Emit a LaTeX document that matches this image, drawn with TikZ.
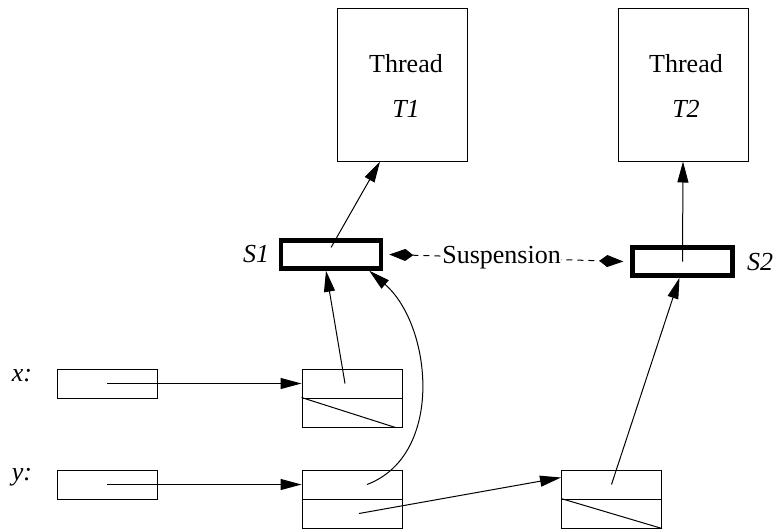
\documentclass[tikz,border=0pt]{standalone}
\usepackage{fontspec}
\setmainfont{Liberation Serif}
\usetikzlibrary{arrows.meta}
\begin{document}
\begin{tikzpicture}[x=1pt,y=-1pt,
  font=\fontsize{26}{30}\selectfont,
  thin line/.style={line width=1pt},
  threadbox/.style={draw,line width=1pt,minimum width=130pt,minimum height=152pt,inner sep=0pt},
  susp/.style={draw,line width=4.5pt,minimum width=100pt,minimum height=28pt,inner sep=0pt},
  cell/.style={draw,line width=1pt,minimum width=100pt,minimum height=29pt,inner sep=0pt},
  ptr/.style={line width=1pt,-{Triangle[length=21pt,width=11pt]}},
  susparrow/.style={line width=1pt,dash pattern=on 6pt off 5pt,
     {Kite[length=24pt,width=12pt,inset=8pt]}-{Kite[length=24pt,width=12pt,inset=8pt]}}
]
\useasboundingbox (0,0) rectangle (776,532);
% threads
\node[threadbox] (T1) at (402,85) {};
\node[anchor=base] (T1a) at (406,73) {Thread};
\node[anchor=base] (T1b) at (406,118) {\textit{T1}};
\node[threadbox] (T2) at (683,85) {};
\node[anchor=base] (T2a) at (686,73) {Thread};
\node[anchor=base] (T2b) at (686,118) {\textit{T2}};
% suspensions
\node[susp] (S1) at (331,254.5) {};
\node[susp] (S2) at (682.5,261.5) {};
\node (S1l) at (256,254) {\textit{S1}};
\node (S2l) at (760,262) {\textit{S2}};
% variables
\node (xl) at (22,376) {\textit{x:}};
\node (yl) at (22,477) {\textit{y:}};
\node[cell] (xc) at (107,383.5) {};
\node[cell] (yc) at (107,484.5) {};
% cells
\node[cell] (a1) at (352,383.5) {};
\node[cell] (a2) at (352,412.5) {};
\node[cell] (b1) at (352,484.5) {};
\node[cell] (b2) at (352,513.5) {};
\node[cell] (c1) at (611.5,484.5) {};
\node[cell] (c2) at (611.5,513.5) {};
\draw[thin line] (a2.north west) -- ([xshift=-7pt]a2.south east);
\draw[thin line] (c2.north west) -- (c2.south east);
% pointers
\draw[ptr] (xc.center) -- (a1.west);
\draw[ptr] (yc.center) -- (b1.west);
\draw[ptr] ([xshift=-7pt]a1.center) -- ([xshift=-5pt]S1.south);
\draw[ptr] ([xshift=15pt]b1.center) .. controls (445,455) and (432,325) .. ([xshift=-14pt]S1.south east);
\draw[ptr] ([xshift=7pt]b2.center) -- ([yshift=7pt]c1.west);
\draw[ptr] (c1.center) -- ([xshift=-3pt]S2.south);
\draw[ptr] ([yshift=7pt]S1.center) -- ([xshift=-22pt]T1.south);
\draw[ptr] (S2.center) -- (T2.south);
% suspension link
\draw[susparrow] ([xshift=6pt]S1.east) -- node[fill=white,inner sep=0pt,pos=0.48] (susl) {Suspension} ([xshift=-7pt]S2.west);
\end{tikzpicture}
\end{document}
